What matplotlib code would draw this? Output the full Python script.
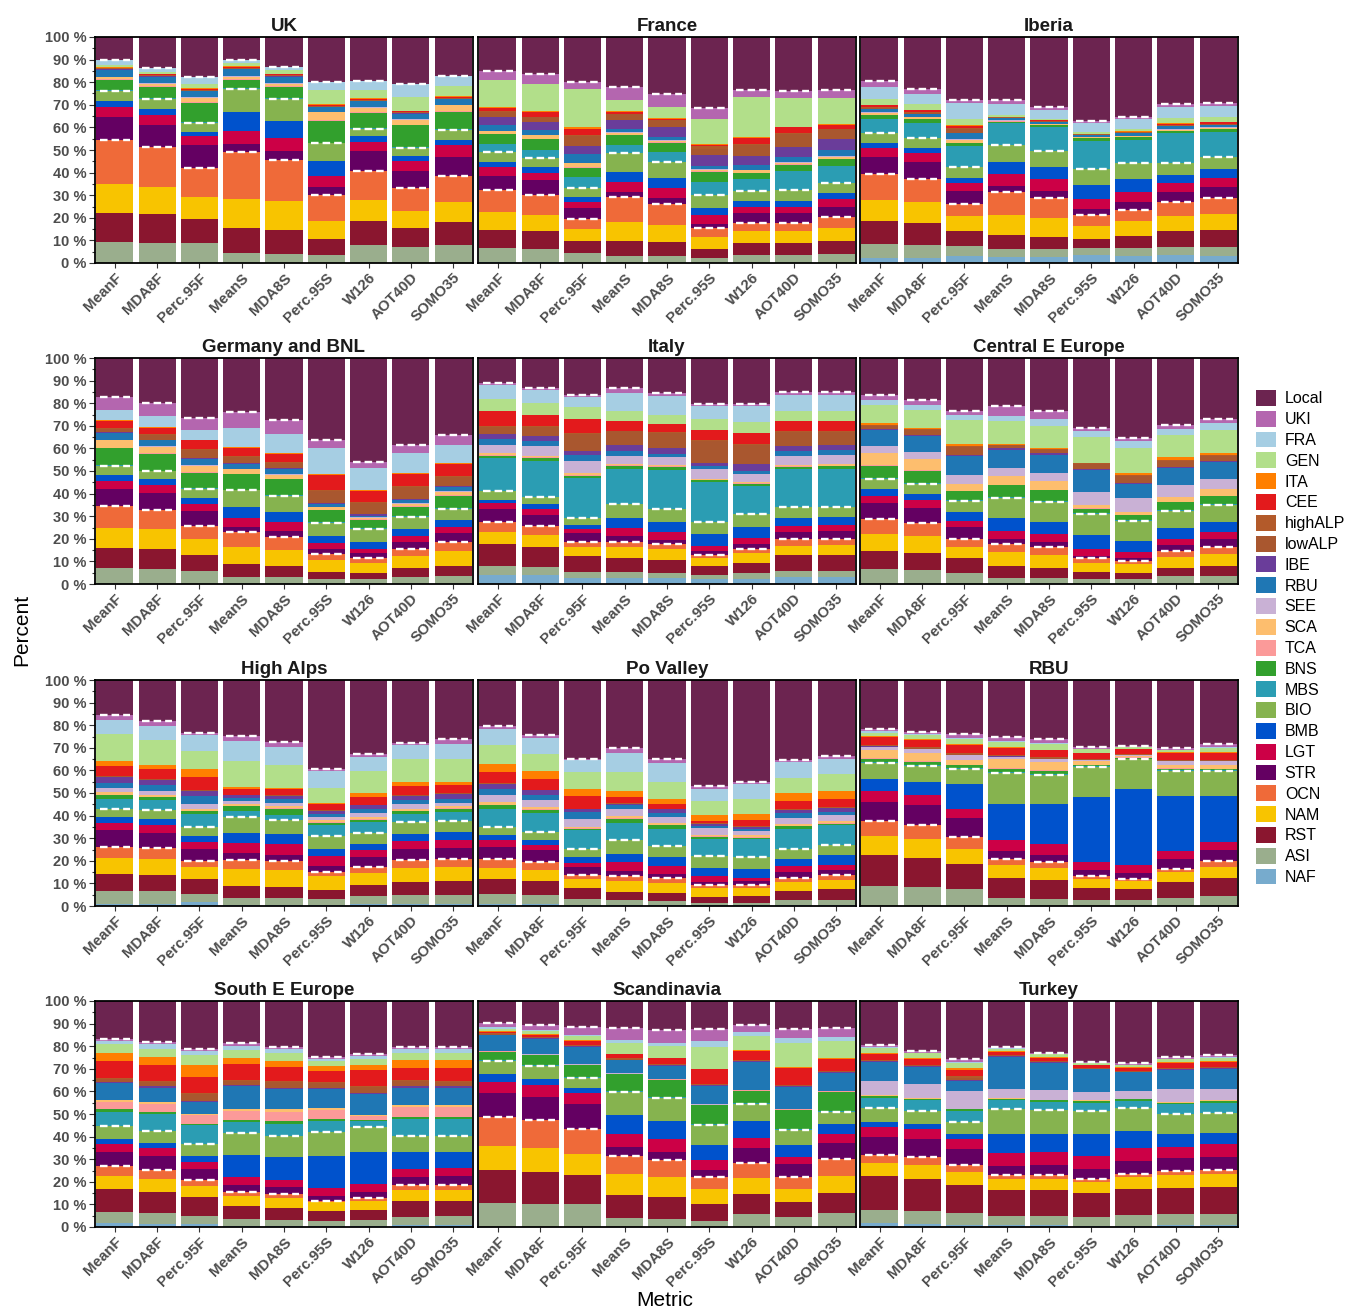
import matplotlib
matplotlib.use('Agg')
import matplotlib.pyplot as plt
from matplotlib.patches import Patch
import numpy as np

plt.rcParams['font.family'] = ['Liberation Sans', 'DejaVu Sans']

metrics = ['MeanF', 'MDA8F', 'Perc.95F', 'MeanS', 'MDA8S', 'Perc.95S', 'W126', 'AOT40D', 'SOMO35']

# stacking order, bottom to top (Local is whatever is left up to 100 %)
sources = ['NAF', 'ASI', 'RST', 'NAM', 'OCN', 'STR', 'LGT', 'BMB', 'BIO', 'MBS', 'BNS', 'TCA',
           'SCA', 'SEE', 'RBU', 'IBE', 'lowALP', 'highALP', 'CEE', 'ITA', 'GEN', 'FRA', 'UKI']
colours = ['#77ABCD', '#9AAE8D', '#8A162F', '#F8C400', '#EF6A39', '#640062', '#CC0046', '#0052CC',
           '#86B34F', '#2B9DB3', '#32A02D', '#FB9A99', '#FDBE6E', '#C9B1D5', '#1F77B4', '#6A3D9A',
           '#A9572F', '#B35A2A', '#E31A1C', '#FF7F00', '#B2DF8A', '#A6CEE3', '#B466AF']
local_colour = '#6C2450'

# contributions in %, one row per metric, columns follow `sources`
uk = [
    [0, 9.5, 12.5, 13, 19.5, 10, 4.5, 2.5, 4.5, 0.5, 4.5, 0.2, 1, 0.3, 3, 0.2, 0.2, 0.2, 0.4, 0.2, 1, 2.1, 0],
    [0, 9, 12.5, 12, 18, 9.5, 4.5, 2.5, 4.5, 0.3, 5.2, 0.2, 1, 0.3, 3, 0.2, 0.2, 0.2, 0.4, 0.2, 1, 1.7, 0],
    [0, 9, 10.5, 9.5, 13, 10, 4, 2, 4, 0.3, 8.7, 0.2, 2, 0.3, 2.5, 0.2, 0.2, 0.2, 0.5, 0.2, 2, 2.8, 0],
    [0, 4.5, 11, 13, 20.5, 3.5, 6, 8.5, 10, 0.5, 3.5, 0.2, 1.2, 0.3, 3, 0.2, 0.2, 0.2, 0.4, 0.3, 1.3, 1.7, 0],
    [0, 4, 10.5, 13, 18, 4, 6, 7.5, 9.5, 0.3, 5.2, 0.2, 1.2, 0.3, 2.8, 0.2, 0.2, 0.2, 0.4, 0.2, 1.5, 1.7, 0],
    [0, 3.5, 7, 8, 11.5, 3.5, 5, 6.5, 8, 0.3, 9.7, 0.2, 3.5, 0.3, 2, 0.2, 0.2, 0.2, 0.5, 0.3, 6, 3.7, 0],
    [0, 8, 10.5, 9.5, 12.5, 9, 4, 2.5, 3.5, 0.3, 6.7, 0.2, 2, 0.3, 2.5, 0.2, 0.2, 0.2, 0.5, 0.3, 3.5, 4.2, 0],
    [0, 7, 8.5, 7.5, 10, 7.5, 4.5, 2.5, 3.5, 0.3, 9.7, 0.2, 2, 0.3, 2.5, 0.2, 0.2, 0.2, 0.5, 0.3, 6, 5.8, 0],
    [0, 8, 10, 9, 11.5, 8.5, 5, 2.5, 4.5, 0.3, 7.7, 0.2, 2.5, 0.3, 2.5, 0.2, 0.2, 0.2, 0.5, 0.3, 4.5, 4.3, 0],
]
france = [
    [0.3, 6.2, 8, 8, 10, 6, 4, 2, 4.5, 3.5, 4.5, 0.3, 1, 0.3, 2.5, 3.5, 2, 0.5, 1.5, 0.5, 11.8, 0, 4],
    [0.3, 5.9, 7.8, 7.3, 8.7, 6.8, 3.2, 2.3, 4, 3.7, 4.7, 0.3, 1.5, 0.3, 2, 3.5, 2.2, 0.3, 2, 0.3, 11.9, 0, 4.5],
    [0.2, 4.2, 5.3, 5.3, 4.6, 4.7, 2.7, 2.4, 4, 4.8, 4, 0.3, 1.6, 0.3, 3.8, 3.5, 4.6, 0.5, 2.7, 0.5, 16.9, 0, 3.2],
    [0.2, 3, 6.4, 8.4, 11, 2.3, 4.7, 4.4, 8.1, 3.5, 4.6, 0.2, 0.8, 0.2, 1.4, 4.2, 2.4, 0.3, 0.8, 0.3, 5, 0, 5.6],
    [0.2, 3, 5.9, 7.7, 9.4, 2.5, 4.3, 4.5, 7.4, 4.2, 4.1, 0.2, 0.7, 0.2, 1.5, 4.5, 2.8, 0.3, 0.4, 0.2, 5, 0, 5.6],
    [0.2, 2, 4, 5.3, 3.9, 2, 3.9, 3, 5.8, 5.9, 4.4, 0.2, 0.6, 0.3, 1.4, 4.7, 3, 1, 0.6, 0.3, 11.2, 0, 5.1],
    [0.2, 3.5, 5.1, 5.5, 3.6, 4.1, 2.7, 2.8, 4.5, 5, 2.7, 0.3, 1, 0.3, 2.1, 4, 4.8, 0.5, 2.7, 0.5, 17.6, 0, 3],
    [0.2, 3.5, 5.1, 5.5, 3.6, 4.1, 2.7, 2.8, 4.9, 8.5, 2.5, 0.2, 0.8, 0.2, 2.4, 4.5, 5.7, 0.5, 2.3, 0.3, 12.9, 0, 3],
    [0.2, 3.9, 5.5, 6.1, 4.6, 4.7, 3.2, 2.7, 4.4, 7.8, 2.9, 0.2, 0.8, 0.5, 2.5, 4.7, 4.4, 0.3, 1.8, 0.3, 11.6, 0, 3.4],
]
iberia = [
    [2.2, 6.2, 10.4, 9.1, 11.5, 7.6, 4, 2, 4.4, 6.1, 1.9, 0.3, 0.7, 0.3, 1.5, 0, 0.5, 0.5, 0.5, 0.3, 2.5, 5.5, 2.5],
    [2.2, 5.6, 10.1, 9, 10.3, 7.4, 4.2, 1.9, 4.4, 6.7, 1.7, 0.3, 0.6, 0.2, 1.5, 0, 0.4, 0.4, 0.7, 0.3, 2.3, 4.7, 2.2],
    [2.9, 4.5, 6.9, 6.3, 5.6, 5.8, 3.6, 1.9, 4.9, 9.4, 1.2, 0.3, 1.1, 0.3, 2.7, 0, 1.7, 0.5, 1, 0.3, 2.6, 7.1, 1.5],
    [2.5, 3.7, 6, 9.1, 9.9, 2.9, 5.3, 5.5, 7.3, 9.6, 0.7, 0.2, 0.3, 0.2, 0.8, 0, 0.2, 0.2, 0.2, 0.2, 0.6, 4.9, 1.8],
    [2.5, 3.7, 5.3, 8.6, 8.6, 3.2, 5.2, 5.3, 7.3, 10.3, 1, 0.2, 0.3, 0.2, 0.8, 0, 0.2, 0.2, 0.2, 0.2, 0.5, 3.9, 1.5],
    [3.5, 3.1, 4.1, 5.8, 4.8, 2.5, 4.4, 6.4, 6.9, 12.6, 1, 0.2, 0.3, 0.2, 0.8, 0, 0.2, 0.2, 0.2, 0.1, 0.7, 3.9, 1],
    [2.9, 3.7, 5.2, 6.9, 4.8, 3.7, 4.1, 5.9, 6.9, 10.3, 1.2, 0.2, 0.4, 0.2, 1, 0, 0.2, 0.2, 0.3, 0.2, 1.2, 4.4, 0.9],
    [3.5, 3.6, 6.9, 6.6, 6.2, 4.8, 3.7, 3.7, 5.4, 13, 1, 0.2, 0.4, 0.3, 1.2, 0, 0.3, 0.3, 0.6, 0.3, 2, 5, 1.2],
    [2.9, 4.2, 7.3, 7.2, 7.1, 4.8, 4, 4, 5.6, 11, 1, 0.2, 0.4, 0.3, 1, 0, 0.3, 0.3, 0.6, 0.3, 2.2, 4.7, 1.2],
]
germany_bnl = [
    [0, 7, 8.9, 9.1, 9.5, 7.4, 3.6, 2.7, 4.2, 0.3, 7.4, 0.2, 3.3, 0.2, 3, 0.5, 1.5, 0.3, 3.2, 0.3, 0, 4.5, 5.8],
    [0, 6.6, 8.8, 8.8, 8.4, 7.5, 3.5, 2.7, 3.6, 0.3, 7.4, 0.2, 3, 0.2, 2.5, 0.4, 2, 0.3, 2.9, 0.3, 0, 4.8, 5.8],
    [0, 5.9, 6.9, 7.3, 5.6, 6.5, 3, 3, 3.9, 0.3, 6.8, 0.2, 3, 0.3, 2.7, 0.5, 3.6, 0.3, 3.8, 0.3, 0, 4.4, 5.1],
    [0, 2.9, 5.9, 7.4, 6.6, 2.5, 4.1, 4.7, 7.3, 0.3, 6.8, 0.2, 2, 0.2, 2, 0.5, 2.8, 0.3, 3.7, 0.3, 0, 8.5, 6.9],
    [0, 2.9, 5.2, 7, 5.9, 2.5, 4, 4.5, 6.9, 0.3, 7.1, 0.2, 1.8, 0.2, 2.2, 0.5, 2.4, 0.3, 3.7, 0.3, 0, 8.5, 6.3],
    [0, 2.2, 3.2, 5.2, 2.6, 2.2, 2.7, 3.2, 5.9, 0.3, 5.2, 0.2, 1, 0.3, 1.3, 0.5, 5.2, 0.5, 6.5, 0.5, 0, 11.5, 3.7],
    [0, 2.2, 2.5, 4.8, 2.2, 2, 2, 2.9, 5.9, 0.3, 3.5, 0.3, 0.8, 0.3, 0.5, 0.6, 5, 0.5, 4.9, 0.5, 0, 9.8, 2.5],
    [0, 2.9, 4, 5.3, 3.2, 3.2, 2.7, 3.2, 5.3, 0.3, 4.1, 0.3, 1, 0.3, 1.2, 0.5, 5.3, 0.5, 5.5, 0.5, 0, 8.7, 3.4],
    [0, 3.7, 4.4, 6.3, 4.2, 3.9, 2.8, 3, 5, 0.3, 5.3, 0.3, 1.6, 0.3, 1.6, 0.5, 4.2, 0.5, 5.1, 0.5, 0, 7.9, 4.4],
]
italy = [
    [4, 4.1, 9.5, 5.2, 4.7, 5.5, 3, 1.2, 3.9, 14.7, 1, 0.2, 0.9, 3.8, 2.6, 2.2, 3, 0.5, 6.5, 0, 5.4, 6.2, 0.9],
    [4, 3.6, 8.8, 5.2, 4.1, 4.8, 2.8, 1.9, 3.4, 15.7, 1.5, 0.2, 0.8, 4.1, 2.2, 2.2, 4.2, 0.5, 4.8, 0, 5.2, 5.8, 1.1],
    [2.5, 2.9, 6.8, 4, 2.4, 3.9, 1.7, 1.8, 3.4, 17.6, 1, 0.3, 0.6, 5.4, 3, 1.4, 7.6, 0.5, 6.1, 0, 5.2, 4.7, 0.8],
    [2.5, 2.6, 6.2, 4.9, 2.6, 2.5, 3.4, 4.7, 5.8, 15.8, 1.4, 0.2, 0.6, 3.6, 1.9, 2.7, 6.1, 0.4, 4.1, 0, 4.4, 8.3, 1.9],
    [2.5, 2.3, 5.9, 4.7, 2.1, 2, 3.3, 4.8, 5.4, 17.4, 1.4, 0.2, 0.6, 3.5, 1.5, 2.6, 6.6, 0.4, 3.7, 0, 4, 8.1, 1.4],
    [2.2, 1.8, 4.1, 3.4, 1.4, 1.8, 2.2, 5.4, 5.2, 17.6, 0.7, 0.2, 0.5, 4.2, 1.4, 1.5, 9.5, 0.5, 4.5, 0, 4.8, 5.9, 1],
    [2.2, 2.5, 4.4, 4.6, 1.7, 2.2, 2.7, 5, 5.5, 12.5, 1, 0.2, 0.5, 3.8, 1.4, 2.7, 8.6, 0.5, 5, 0, 4.9, 6.9, 0.7],
    [3.2, 2.7, 6.9, 4.1, 2.9, 3.3, 2.6, 3.7, 4.8, 16.5, 1.1, 0.2, 0.6, 4.2, 1.9, 2.5, 5.9, 0.4, 4.5, 0, 4.7, 6.9, 1.2],
    [3.2, 2.7, 7, 4.3, 2.6, 3.7, 2.6, 3.6, 4.5, 16.8, 1.1, 0.2, 0.6, 4.4, 2.2, 2.2, 5.4, 0.4, 4.5, 0, 4.7, 6.9, 1.2],
]
central_e_europe = [
    [0, 6.6, 8.1, 7.6, 6.3, 7.1, 3.2, 3, 4.4, 0.4, 5.7, 0.2, 5.4, 2.9, 7.1, 0.5, 1.3, 0.4, 0, 1, 8.1, 1.9, 2.5],
    [0, 6.3, 7.6, 7.4, 5.9, 6.6, 3.2, 2.9, 4.4, 0.4, 5.5, 0.2, 5.1, 2.9, 7.2, 0.5, 1.9, 0.4, 0, 0.6, 8.1, 2.2, 2.2],
    [0, 4.8, 6.5, 4.9, 3.6, 5.5, 2.6, 4, 4.8, 0.5, 3.9, 0.2, 2.8, 4.1, 8.3, 0.6, 3.4, 0.4, 0, 1.1, 10.4, 2.5, 1.5],
    [0, 2.6, 5.2, 6.2, 3.6, 2.2, 3.7, 5.9, 8.8, 0.4, 5, 0.2, 4.2, 3.4, 8.1, 0.5, 1.4, 0.3, 0, 0.3, 10, 2.4, 4.2],
    [0, 2.6, 4.7, 5.5, 3.4, 2.4, 3.4, 5.5, 8.8, 0.4, 4.7, 0.2, 3.9, 3.7, 8.1, 0.5, 1.7, 0.3, 0, 0.2, 10.1, 3, 3.4],
    [0, 2.2, 3.2, 4.1, 1.8, 1.2, 2.9, 6.2, 9.2, 0.4, 2.1, 0.2, 1.3, 5.9, 9.7, 0.5, 2, 0.5, 0, 0.2, 11.5, 2.4, 1.5],
    [0, 2.2, 2.6, 4, 1.5, 1.4, 2.3, 5.1, 8.8, 0.3, 2.2, 0.2, 1.3, 6.3, 6.1, 0.5, 2.9, 0.5, 0, 0.7, 11.3, 2.9, 1.5],
    [0, 3.4, 3.9, 4.7, 2.4, 2.8, 2.6, 5.2, 7.3, 0.4, 3.6, 0.2, 1.8, 5.6, 7.3, 0.5, 2.7, 0.5, 0, 1.1, 9.9, 2.9, 1.5],
    [0, 3.4, 4.7, 5.1, 3, 3.6, 3, 4.8, 7.2, 0.4, 3.7, 0.2, 2.8, 4.4, 7.6, 0.5, 2.4, 0.4, 0, 0.8, 10.3, 2.9, 1.8],
]
high_alps = [
    [1, 5.5, 7.8, 6.9, 4.9, 7.4, 3.2, 2.7, 3.4, 4.7, 1.5, 0.3, 1, 2, 2.2, 2.6, 0.4, 0, 4.3, 2.3, 12, 6.4, 1.8],
    [1, 5.5, 7.4, 7, 4.8, 6.7, 3.6, 2.6, 3.7, 4.5, 1.3, 0.3, 0.9, 1.6, 2.6, 2.2, 0.4, 0, 4.4, 1.9, 11, 6.2, 2.3],
    [1.8, 3.7, 6.6, 5.2, 2.5, 5.3, 3.2, 2.7, 3.8, 6.1, 1, 0.3, 0.9, 2.2, 3.4, 2.2, 0.4, 0, 5.8, 3.7, 7.9, 6.8, 1],
    [0.5, 3.2, 5.1, 7.7, 4, 3, 4.5, 4.4, 7, 2.5, 2.2, 0.3, 0.6, 1.5, 1.4, 1.1, 0.3, 0, 2.6, 0.7, 11.6, 8.8, 2.2],
    [0.5, 3.2, 4.7, 7.4, 4, 2.9, 4.9, 4.4, 6.2, 2.2, 2.7, 0.3, 0.8, 1.5, 1.5, 1.5, 0.3, 0, 2.6, 0.8, 10, 8.1, 2.1],
    [0.4, 2.8, 4, 6.1, 1.7, 2.6, 4.5, 3.3, 5.4, 4.9, 1.2, 0.3, 0.7, 1.6, 1.1, 1.4, 0.3, 0, 2.7, 0.7, 6.7, 7.3, 1.1],
    [1, 3.4, 5, 5.2, 2.7, 4.4, 2.9, 3, 4.6, 5, 1, 0.3, 0.9, 1.6, 1.8, 1.7, 0.3, 0, 3.6, 1.7, 9.6, 6.2, 1.2],
    [0.7, 4.3, 5.6, 6.2, 3.4, 4.9, 3.5, 3.4, 5.2, 3.7, 1, 0.3, 0.9, 1.9, 1.9, 1.8, 0.4, 0, 4, 1.8, 10, 6.2, 0.9],
    [0.7, 4.3, 6.1, 6.2, 3.3, 5.1, 3.7, 3.3, 4.9, 4, 1.5, 0.3, 0.8, 1.5, 1.8, 1.9, 0.4, 0, 3.6, 1.5, 10.3, 6.6, 1.9],
]
po_valley = [
    [1, 4.5, 6.3, 5, 4.1, 5.2, 3, 2.5, 3.4, 8.1, 1.4, 0.3, 1.2, 3.3, 2.6, 2.2, 0, 0.3, 4.9, 3.7, 8.4, 7.1, 1.1],
    [1, 3.7, 6.2, 4.9, 3.7, 5.1, 2.5, 2.3, 3.3, 8.6, 1.3, 0.3, 0.9, 3, 2.2, 2.2, 0, 0.3, 4.8, 3.4, 7.7, 7.1, 1],
    [0.5, 2.7, 4.8, 3.8, 1.8, 3.7, 1.9, 2.5, 3.7, 8.1, 0.7, 0.3, 0.5, 3.6, 3, 1.2, 0, 0.3, 5.6, 2.9, 7.7, 5.3, 0.6],
    [0.5, 2, 3.7, 4.9, 2.2, 2, 4.2, 3.7, 5.9, 7.8, 1.7, 0.3, 0.9, 3.3, 1.4, 0.8, 0, 0.2, 2.7, 2.7, 8.4, 8.5, 2.1],
    [0.5, 1.7, 3.7, 4.4, 2.1, 1.9, 3.4, 4, 4.8, 7.7, 1.5, 0.3, 0.9, 2.6, 1.8, 1.5, 0, 0.3, 1.9, 2.5, 7.5, 8.1, 2.1],
    [0.3, 1, 2.7, 4, 1.1, 1.5, 2.7, 3.5, 5.2, 7.8, 0.7, 0.3, 0.5, 3.2, 0.9, 1, 0, 0.3, 0.9, 2.5, 6.2, 5.6, 1.1],
    [0.3, 1.2, 2.8, 3.7, 1.4, 1.5, 1.6, 4, 5.2, 7.8, 0.7, 0.3, 0.8, 1.7, 1.2, 0.8, 0, 0.3, 2.6, 3, 6.6, 6.6, 0.8],
    [0.5, 2.3, 3.8, 4, 1.9, 2.5, 2.7, 2.9, 4.5, 9.1, 1.1, 0.3, 0.8, 2.7, 2.2, 1.2, 0, 0.3, 3.7, 3.3, 7, 6.9, 0.9],
    [0.5, 2.3, 4.6, 4.3, 2.2, 2.2, 2.2, 4.1, 4.4, 8.9, 0.7, 0.3, 0.8, 2.6, 1.6, 1.8, 0, 0.3, 3.7, 3.4, 7.4, 6.9, 1.2],
]
rbu = [
    [0, 8.8, 13.6, 8.6, 6.5, 8.5, 4.9, 5.1, 7.4, 0.4, 1.4, 0.3, 3.4, 1.5, 0, 0.3, 0.3, 0.3, 3.5, 0.3, 1.6, 0.8, 0.8],
    [0, 8.4, 13, 8.4, 6.2, 8.5, 4.5, 5.9, 7, 0.4, 1.4, 0.3, 3.7, 1.6, 0, 0.3, 0.3, 0.3, 3.4, 0.3, 1.6, 0.5, 1],
    [0, 7.4, 11.3, 6.7, 5.1, 8.4, 4.2, 11, 6.7, 0.4, 1, 0.3, 1.9, 2.2, 0, 0.3, 0.3, 0.3, 3.8, 0.4, 2.2, 0.6, 1.7],
    [0, 3.7, 8.7, 5.6, 2.9, 3.3, 4.9, 16.2, 13.7, 0.4, 1.4, 0.3, 3.8, 1, 0, 0.3, 0.3, 0.3, 3.1, 0.3, 2.4, 0.4, 1.8],
    [0, 2.9, 8.5, 5.4, 2.7, 3.2, 4.6, 17.7, 13.1, 0.4, 1.2, 0.3, 3.7, 1.2, 0, 0.3, 0.3, 0.3, 3.1, 0.3, 2.6, 0.5, 1.7],
    [0, 2.5, 5.5, 3.8, 1.5, 2.5, 3.7, 28.7, 13.3, 0.3, 0.5, 0.3, 1.5, 0.5, 0, 0.2, 0.2, 0.2, 2.4, 0.2, 1.5, 0.3, 0.8],
    [0, 2.5, 5.2, 3.2, 1.2, 2.5, 3.4, 33.9, 13, 0.3, 0.4, 0.2, 0.6, 0.2, 0, 0.2, 0.2, 0.2, 2.1, 0.2, 0.7, 0.2, 0.6],
    [0, 3.7, 6.9, 4.4, 1.5, 4.4, 3.4, 24.4, 10.9, 0.4, 0.8, 0.3, 1.1, 1.8, 0, 0.2, 0.2, 0.2, 3.2, 0.3, 0.8, 0.3, 0.7],
    [0, 4.4, 8, 4.9, 2.5, 4.8, 3.7, 20.4, 10.9, 0.4, 0.5, 0.3, 1.4, 1.8, 0, 0.2, 0.2, 0.2, 3.1, 0.3, 1.9, 0.3, 1.6],
]
south_e_europe = [
    [1.9, 4.7, 10, 5.9, 4.7, 6.1, 3.4, 2.2, 5.6, 6.5, 1.1, 3.3, 0.8, 0, 7.4, 0.6, 1.4, 0.4, 7.4, 3.4, 4, 1.4, 1.2],
    [1.5, 4.8, 9.4, 5.6, 4.1, 6.2, 3.3, 2.3, 5.4, 7.3, 1.1, 3.3, 0.8, 0, 6.6, 0.6, 1.9, 0.4, 6.9, 3.7, 3.7, 1.9, 1],
    [1.2, 3.6, 8.4, 4.9, 2.5, 5.1, 3.2, 2.4, 5.4, 8.4, 0.4, 4, 0.4, 0, 5.2, 0.5, 3.1, 0.4, 7.4, 5, 4.4, 1.9, 1.1],
    [0.5, 2.9, 5.7, 4.6, 1.7, 3, 3.9, 9.7, 9.6, 4.7, 1.1, 4, 1, 0, 10, 0.5, 1.7, 0.4, 7.2, 2.4, 3.7, 1.7, 1.2],
    [0.5, 2.7, 5.3, 4.4, 1.8, 2.9, 3.4, 10.1, 9.3, 5.1, 1.5, 4, 1.1, 0, 8.8, 0.5, 2.8, 0.4, 6.3, 2.5, 3.7, 1.5, 1.1],
    [0.4, 2.1, 4.8, 3.7, 0.7, 2.2, 3.4, 14.3, 10.3, 5.1, 0.7, 4.1, 0.8, 0, 8.6, 0.5, 1.9, 0.4, 5, 2.2, 2.2, 1, 0.9],
    [0.5, 2.4, 4.7, 4.1, 1.2, 2.8, 3.4, 13.9, 11.1, 2.9, 0.4, 1.5, 0.6, 0, 9.2, 0.5, 2.9, 0.4, 7, 2, 2.7, 1.4, 1.1],
    [0.7, 3.7, 6.9, 4.9, 2.2, 3.9, 3.4, 7.3, 7.4, 7.3, 0.8, 4.8, 0.6, 0, 7.8, 0.5, 2.4, 0.4, 5.5, 3.2, 3.4, 1.5, 1.1],
    [0.7, 4, 6.6, 4.9, 2.4, 3.9, 3.6, 6.9, 7.4, 7.3, 0.8, 4.8, 0.6, 0, 7.8, 0.5, 2, 0.4, 5.9, 3.2, 3.4, 1.5, 1.1],
]
scandinavia = [
    [0, 10.5, 14.6, 10.7, 12.9, 10.7, 4.9, 3.3, 5.9, 0.4, 3.5, 0.3, 0, 0.3, 6.8, 0.3, 0.3, 0.3, 0.6, 0.3, 1.2, 0.5, 2.1],
    [0, 10, 14.3, 10.8, 12.1, 10.5, 5, 2.9, 5.6, 0.4, 4.4, 0.3, 0, 0.3, 6.7, 0.3, 0.3, 0.3, 0.8, 0.3, 1.4, 0.4, 2.3],
    [0, 10.3, 12.6, 9.5, 10.8, 11.1, 5.1, 2.3, 4.4, 0.4, 5, 0.3, 0, 0.3, 7.5, 0.3, 0.3, 0.3, 1.7, 0.4, 1.8, 0.5, 3.6],
    [0, 3.8, 10.4, 9.4, 7.8, 4.1, 5.8, 8.3, 10.3, 0.4, 7.3, 0.3, 0, 0.3, 5.5, 0.3, 0.3, 0.3, 1.8, 0.3, 4.6, 1.4, 5.5],
    [0, 3.4, 9.9, 8.8, 7.5, 3.6, 5.6, 8.1, 10.3, 0.4, 7.4, 0.3, 0, 0.3, 5.6, 0.3, 0.3, 0.3, 2.5, 0.3, 5.2, 1.5, 5.6],
    [0, 2.7, 7.3, 7, 5.1, 3.1, 4.4, 6.5, 8.9, 0.4, 8.4, 0.3, 0, 0.3, 8, 0.3, 0.3, 0.3, 6.4, 0.4, 9.6, 2.5, 5.2],
    [0, 5.9, 8.6, 7.3, 6.7, 6.6, 4.1, 7.7, 7.7, 0.4, 5.2, 0.3, 0, 0.3, 12.2, 0.3, 0.3, 0.3, 4.1, 0.4, 6.2, 1.8, 3.1],
    [0, 4.6, 6.5, 5.9, 5.1, 5.6, 3.3, 5.1, 6.7, 0.4, 8.6, 0.3, 0, 0.3, 9.7, 0.3, 0.3, 0.3, 7.5, 0.4, 10.3, 2.5, 4.1],
    [0, 6.3, 8.9, 7.4, 7.3, 7.1, 4.3, 4.1, 5.5, 0.4, 8.4, 0.3, 0, 0.3, 8, 0.3, 0.3, 0.3, 5.3, 0.4, 7.4, 1.8, 4.1],
]
turkey = [
    [1.9, 5.6, 15.1, 5.6, 3.7, 8.1, 4.2, 2.3, 6, 4.7, 0.8, 0, 0.3, 6.3, 8.4, 0.3, 0.3, 0.5, 2.6, 0.5, 2.2, 0.3, 0.7],
    [1.5, 5.6, 14.3, 5.9, 3.8, 7.7, 4.4, 2.2, 5.9, 4.9, 0.6, 0, 0.3, 6.3, 7.5, 0.3, 0.3, 0.4, 2.6, 0.5, 1.8, 0.3, 0.8],
    [1, 5, 12.4, 5.9, 3, 7.4, 4.1, 2.2, 5.5, 4.8, 0.8, 0, 0.3, 7.8, 4.4, 0.3, 1.2, 0.5, 2.9, 1, 2.2, 0.3, 1.2],
    [0.7, 4.2, 11.3, 5.2, 1.5, 4.1, 5.9, 8.1, 11.1, 4.1, 0.6, 0, 0.3, 4.1, 14.2, 0.3, 0.3, 0.2, 1.2, 0.3, 1.2, 0.3, 0.6],
    [0.7, 4.2, 11.3, 5.2, 1.6, 4.3, 5.9, 7.8, 10.8, 3.5, 0.7, 0, 0.3, 4.2, 12.2, 0.3, 0.3, 0.2, 1.4, 0.3, 1.2, 0.3, 0.4],
    [0.5, 4.1, 10.6, 4.9, 1, 4.7, 5.6, 9.6, 10.3, 3.7, 0.8, 0, 0.3, 3.6, 10.1, 0.2, 0.2, 0.2, 1.1, 0.3, 0.6, 0.2, 0.4],
    [0.5, 4.7, 11.5, 5.4, 1.5, 5.6, 5.9, 7.4, 10.3, 3, 0.7, 0, 0.3, 3.4, 8.4, 0.2, 0.2, 0.2, 1.3, 0.3, 0.7, 0.2, 0.7],
    [0.9, 4.7, 11.8, 5.5, 1.9, 5.9, 4.8, 5.5, 8.9, 4.4, 0.7, 0, 0.3, 5.6, 8.6, 0.3, 0.3, 0.2, 2.1, 0.5, 1.3, 0.3, 0.9],
    [0.9, 4.7, 12.2, 5.5, 1.9, 5.9, 5.5, 5.1, 8.6, 4.7, 0.8, 0, 0.3, 4.8, 9.2, 0.3, 0.3, 0.2, 2.1, 0.5, 1.3, 0.3, 0.9],
]

regions = ['UK', 'France', 'Iberia', 'Germany and BNL', 'Italy', 'Central E Europe',
           'High Alps', 'Po Valley', 'RBU', 'South E Europe', 'Scandinavia', 'Turkey']
region_data = [uk, france, iberia, germany_bnl, italy, central_e_europe,
               high_alps, po_valley, rbu, south_e_europe, scandinavia, turkey]

# dashed separators sit on top of these groups: OCN, BIO, UKI
group_tops = [sources.index('OCN'), sources.index('BIO'), sources.index('UKI')]

W, H = 1352, 1311
fig = plt.figure(figsize=(W / 100, H / 100), dpi=100)
col_left = [95, 478, 860]
row_top = [37, 358, 680, 1001]
pw, ph = 378, 226
grey = '#4D4D4D'
x = np.arange(len(metrics))
bw = 0.88

for k, (name, data) in enumerate(zip(regions, region_data)):
    r, c = divmod(k, 3)
    ax = fig.add_axes([col_left[c] / W, 1 - (row_top[r] + ph) / H, pw / W, ph / H])
    vals = np.array(data, dtype=float)
    bottom = np.zeros(len(metrics))
    for j, src in enumerate(sources):
        ax.bar(x, vals[:, j], bw, bottom=bottom, color=colours[j], linewidth=0)
        bottom += vals[:, j]
    ax.bar(x, 100 - bottom, bw, bottom=bottom, color=local_colour, linewidth=0)

    cum = vals.cumsum(axis=1)
    for g in group_tops:
        ax.hlines(cum[:, g], x - 0.36, x + 0.36, colors='white', linewidth=1.7,
                  linestyles=(0, (3.2, 1.7)), zorder=3)

    ax.set_xlim(-0.47, len(metrics) - 0.53)
    ax.set_ylim(0, 100)
    ax.set_xticks(x)
    ax.set_xticklabels(metrics, rotation=45, ha='right', va='top', rotation_mode='anchor',
                       fontsize=10.8, fontweight='bold', color=grey)
    ax.tick_params(axis='x', length=3.5, width=0.8, color='#333333', pad=2)
    ax.set_yticks(np.arange(0, 101, 10))
    ax.set_yticks(np.arange(5, 100, 10), minor=True)
    if c == 0:
        ax.set_yticklabels([f'{v} %' for v in range(0, 101, 10)], fontsize=10.5,
                           fontweight='bold', color=grey)
        ax.tick_params(axis='y', which='major', length=4, width=0.8, color='#333333', pad=2)
        ax.tick_params(axis='y', which='minor', length=2.5, width=0.8, color='#333333')
    else:
        ax.tick_params(axis='y', which='both', left=False, labelleft=False)
    for sp in ax.spines.values():
        sp.set_linewidth(1.3)
        sp.set_color('black')
    ax.set_title(name, fontsize=13.5, fontweight='bold', color='#1A1A1A', pad=4)

fig.text(22 / W, 1 - 630 / H, 'Percent', rotation=90, fontsize=15, ha='center', va='center')
fig.text(665 / W, 1 - 1300 / H, 'Metric', fontsize=15, ha='center', va='center')

handles = [Patch(facecolor=local_colour, label='Local')]
handles += [Patch(facecolor=colours[j], label=sources[j]) for j in range(len(sources) - 1, -1, -1)]
fig.legend(handles=handles, loc='upper left', bbox_to_anchor=(1256 / W, 1 - 390 / H),
           frameon=False, fontsize=11.5, handlelength=1.25, handleheight=1.15,
           labelspacing=0.28, handletextpad=0.55, borderpad=0, borderaxespad=0)

fig.savefig('out.png', dpi=100)
